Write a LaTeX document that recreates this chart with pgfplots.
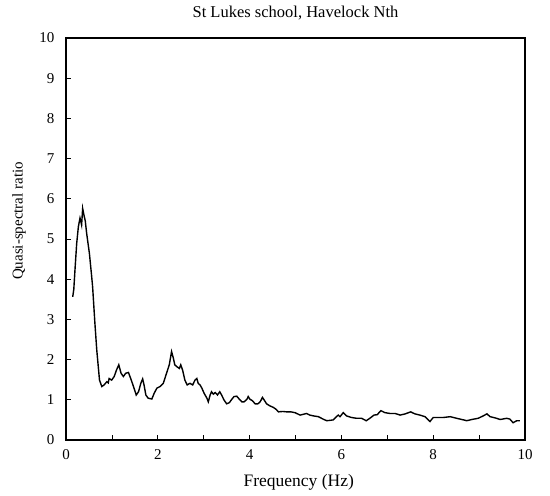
\documentclass[border=0pt]{standalone}
\usepackage{pgfplots}
\pgfplotsset{compat=1.18}
\usepackage{fontspec}
\setmainfont{Liberation Serif}
\begin{document}
\begin{tikzpicture}
\begin{axis}[
  scale only axis,
  width=459pt, height=402pt,
  xmin=0, xmax=10, ymin=0, ymax=10,
  xtick={0,1,...,10},
  xticklabels={0,,2,,4,,6,,8,,10},
  ytick={0,1,...,10},
  tick align=inside,
  xtick pos=bottom, ytick pos=left,
  major tick length=5pt,
  axis line style={line width=1.2pt},
  every tick/.style={black, line width=0.8pt},
  tick label style={font=\fontsize{15}{18}\selectfont},
  xticklabel style={yshift=-6pt},
  yticklabel style={xshift=-8pt},
  /pgf/number format/assume math mode=true,
  title={St Lukes school, Havelock Nth},
  title style={font=\fontsize{16.5}{19}\selectfont, at={(axis description cs:0.5,1)}, anchor=south, yshift=8pt},
  xlabel={Frequency (Hz)},
  xlabel style={font=\fontsize{17.5}{20}\selectfont, at={(axis description cs:0.507,0)}, anchor=north, yshift=-31pt},
  ylabel={Quasi-spectral ratio},
  ylabel style={font=\fontsize{15}{18}\selectfont, at={(axis description cs:-0.08,0.545)}, anchor=south},
]
\addplot[black, line width=1.4pt] coordinates {
(0.146,3.56)(0.17,3.75)(0.20,4.31)(0.233,4.89)(0.27,5.31)(0.305,5.52)(0.32,5.45)(0.34,5.35)(0.363,5.76)(0.39,5.60)(0.42,5.45)(0.45,5.14)(0.51,4.64)(0.56,4.06)(0.58,3.81)(0.63,2.90)(0.67,2.24)(0.73,1.49)(0.78,1.33)(0.83,1.37)(0.89,1.45)(0.92,1.42)(0.94,1.53)(0.995,1.49)(1.05,1.58)(1.10,1.74)(1.15,1.87)(1.20,1.66)(1.25,1.58)(1.30,1.66)(1.36,1.68)(1.41,1.53)(1.47,1.33)(1.53,1.12)(1.58,1.20)(1.63,1.41)(1.67,1.52)(1.70,1.37)(1.74,1.12)(1.79,1.04)(1.87,1.02)(1.92,1.16)(1.98,1.29)(2.05,1.33)(2.12,1.41)(2.19,1.66)(2.25,1.87)(2.30,2.20)(2.34,2.03)(2.37,1.87)(2.42,1.82)(2.47,1.78)(2.50,1.87)(2.54,1.74)(2.59,1.49)(2.64,1.37)(2.70,1.41)(2.76,1.37)(2.81,1.49)(2.85,1.53)(2.88,1.41)(2.92,1.37)(2.96,1.29)(3.01,1.16)(3.07,1.04)(3.10,0.95)(3.14,1.12)(3.17,1.20)(3.21,1.14)(3.25,1.18)(3.30,1.12)(3.35,1.20)(3.39,1.12)(3.44,1.00)(3.50,0.90)(3.56,0.93)(3.61,1.01)(3.66,1.08)(3.72,1.09)(3.78,1.01)(3.83,0.95)(3.88,0.95)(3.94,1.01)(3.97,1.08)(4.01,1.01)(4.06,0.98)(4.12,0.90)(4.18,0.90)(4.23,0.95)(4.28,1.06)(4.32,0.99)(4.37,0.90)(4.44,0.85)(4.52,0.81)(4.58,0.76)(4.63,0.70)(4.72,0.71)(4.81,0.70)(4.90,0.70)(4.99,0.68)(5.10,0.62)(5.17,0.64)(5.24,0.66)(5.31,0.62)(5.39,0.60)(5.50,0.58)(5.60,0.52)(5.68,0.48)(5.76,0.49)(5.82,0.50)(5.93,0.62)(5.97,0.58)(6.04,0.68)(6.11,0.60)(6.22,0.56)(6.33,0.54)(6.44,0.54)(6.54,0.48)(6.62,0.54)(6.71,0.62)(6.78,0.63)(6.86,0.73)(6.95,0.68)(7.06,0.66)(7.17,0.66)(7.28,0.62)(7.39,0.65)(7.51,0.70)(7.60,0.65)(7.71,0.62)(7.82,0.58)(7.93,0.46)(8.00,0.56)(8.11,0.56)(8.22,0.56)(8.37,0.58)(8.51,0.54)(8.66,0.50)(8.73,0.48)(8.84,0.51)(8.98,0.54)(9.09,0.60)(9.17,0.65)(9.24,0.58)(9.35,0.55)(9.46,0.51)(9.60,0.54)(9.67,0.52)(9.74,0.43)(9.82,0.48)(9.89,0.48)
};
\end{axis}
\path ([shift={(-66pt,-55pt)}]current axis.south west) rectangle ([shift={(25pt,38pt)}]current axis.north east);
\end{tikzpicture}
\end{document}
